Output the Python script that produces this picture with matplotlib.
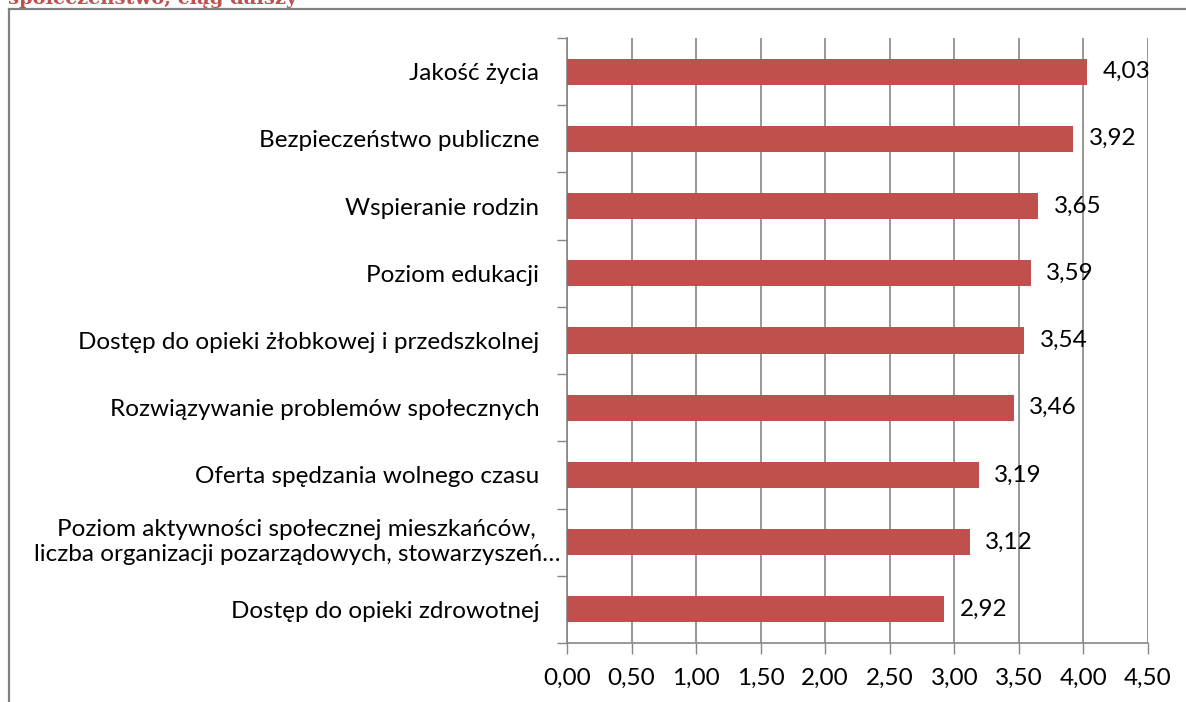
import matplotlib.pyplot as plt
from matplotlib.ticker import FuncFormatter

# data (bottom to top as drawn)
categories = [
    'Dostęp do opieki zdrowotnej',
    'Poziom aktywności społecznej mieszkańców,\nliczba organizacji pozarządowych, stowarzyszeń…',
    'Oferta spędzania wolnego czasu',
    'Rozwiązywanie problemów społecznych',
    'Dostęp do opieki żłobkowej i przedszkolnej',
    'Poziom edukacji',
    'Wspieranie rodzin',
    'Bezpieczeństwo publiczne',
    'Jakość życia',
]
values = [2.92, 3.12, 3.19, 3.46, 3.54, 3.59, 3.65, 3.92, 4.03]
xticks = [0, 0.5, 1.0, 1.5, 2.0, 2.5, 3.0, 3.5, 4.0, 4.5]

bar_color = '#C0504D'
grid_color = '#868686'
fs = 17.5
plt.rcParams['font.family'] = ['Lato', 'DejaVu Sans']

fig = plt.figure(figsize=(11.86, 7.02), dpi=100)
ax = fig.add_axes([567/1186, 1 - 643/702, (1148 - 567)/1186, (643 - 38)/702])

ypos = range(len(categories))
ax.barh(ypos, values, height=0.39, color=bar_color, zorder=3)
for y, v in zip(ypos, values):
    ax.text(v + 0.12, y, f'{v:.2f}'.replace('.', ','), va='center', ha='left',
            fontsize=fs, zorder=4)

ax.set_xlim(0, 4.5)
ax.set_ylim(-0.5, len(categories) - 0.5)
ax.set_xticks(xticks)
ax.xaxis.set_major_formatter(FuncFormatter(lambda x, p: f'{x:.2f}'.replace('.', ',')))
ax.set_yticks(list(ypos))
# wrapped label is centred in a wider box, so draw it separately
labels = [c if '\n' not in c else '' for c in categories]
ax.set_yticklabels(labels)
for y, c in zip(ypos, categories):
    if '\n' in c:
        ax.annotate(c, xy=(0, y), xycoords=('axes fraction', 'data'),
                    xytext=(-5, 0), textcoords='offset points',
                    ha='right', va='center', multialignment='center', fontsize=fs)
ax.set_yticks([i - 0.5 for i in range(len(categories) + 1)], minor=True)
ax.tick_params(axis='y', which='major', length=0, pad=20, labelsize=fs)
ax.tick_params(axis='y', which='minor', length=7, width=1, color=grid_color)
ax.tick_params(axis='x', length=8, width=1, color=grid_color, labelsize=fs, pad=10)

ax.grid(axis='x', color=grid_color, linewidth=1.2, zorder=0)
for s in ['top', 'right']:
    ax.spines[s].set_visible(False)
for s in ['left', 'bottom']:
    ax.spines[s].set_color(grid_color)
    ax.spines[s].set_linewidth(1.2)

# outer frame and cut-off heading
fig.add_artist(plt.Line2D([9/1186, 9/1186], [0, 1 - 9/702], color='#808080', linewidth=1.6))
fig.add_artist(plt.Line2D([9/1186, 1], [1 - 9/702, 1 - 9/702], color='#808080', linewidth=1.6))
fig.text(8/1186, 1 - 4/702, 'społeczeństwo, ciąg dalszy', color=bar_color,
         fontsize=14, fontweight='bold', family='DejaVu Serif', va='baseline')

fig.savefig('out.png', dpi=100)
